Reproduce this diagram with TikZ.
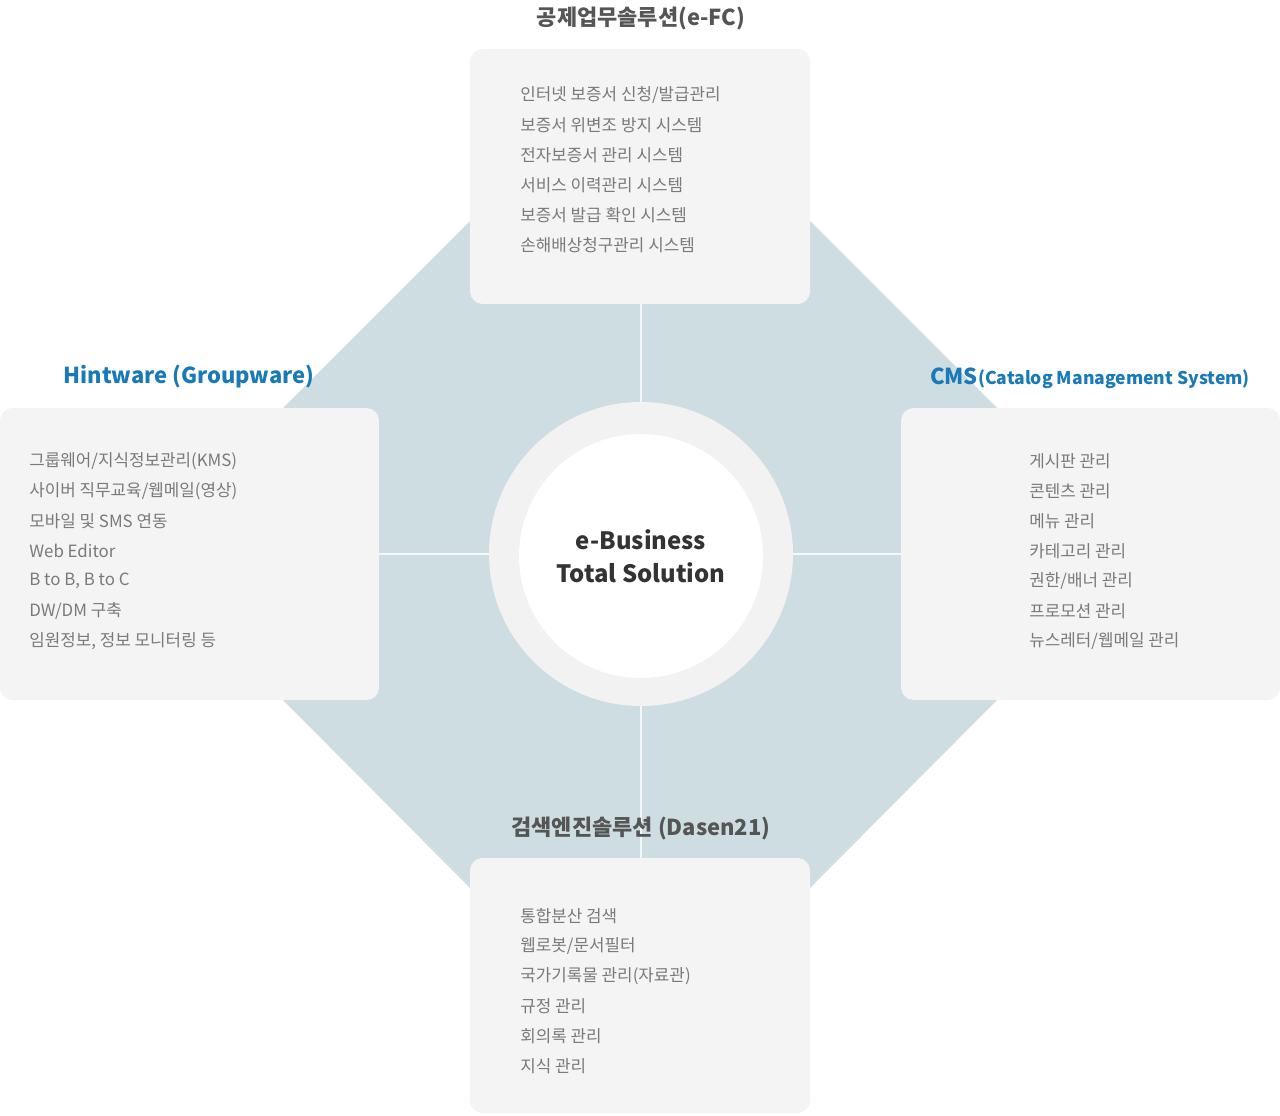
\documentclass[tikz,border=0pt]{standalone}
\usepackage{fontspec}
\setmainfont{Noto Sans CJK KR}
\definecolor{octa}{HTML}{CDDDE2}
\definecolor{boxgray}{HTML}{F4F4F4}
\definecolor{ringgray}{HTML}{F2F2F2}
\definecolor{listgray}{HTML}{7A7A7A}
\definecolor{titlegray}{HTML}{555555}
\definecolor{hintblue}{HTML}{1A7AB8}
\begin{document}
\begin{tikzpicture}[x=0.02cm, y=-0.02cm,
    panel/.style={fill=boxgray, rounded corners=0.25cm},
    item/.style={anchor=west, text=listgray, font=\fontsize{9.6pt}{11pt}\selectfont, inner sep=0pt},
    title/.style={font=\fontsize{12.5pt}{14pt}\selectfont\bfseries, inner sep=0pt}]
\useasboundingbox (0,0) rectangle (1280,1115);
% octagon behind
\fill[octa] (283,408) -- (470,221) -- (810,221) -- (997,408) -- (997,700)
  -- (810,888) -- (470,888) -- (283,700) -- cycle;
\draw[white!80!octa, line width=0.6pt] (641,304) -- (641,858);
\draw[white!80!octa, line width=0.6pt] (379,554) -- (901,554);
% panels
\fill[panel] (470,49) rectangle (810,304);
\fill[panel] (0,408) rectangle (379,700);
\fill[panel] (901,408) rectangle (1280,700);
\fill[panel] (470,858) rectangle (810,1113);
% center
\fill[ringgray] (641,554) circle (152);
\node[circle, fill=white, minimum size=4.88cm, align=center, text=black!80,
  font=\fontsize{13.6pt}{19pt}\selectfont\bfseries] (core) at (641,556)
  {e-Business\\Total Solution};
% titles
\node[title, text=titlegray] (efc) at (641,18) {공제업무솔루션(e-FC)};
\node[title, text=hintblue] (hint) at (189,377) {Hintware (Groupware)};
\node[title, text=hintblue] (cms) at (1090,378) {CMS{\fontsize{10pt}{12pt}\selectfont(Catalog Management System)}};
\node[title, text=titlegray] (dasen) at (641,828) {검색엔진솔루션 (Dasen21)};
% lists
\foreach \t [count=\i] in {인터넷 보증서 신청/발급관리, 보증서 위변조 방지 시스템,
  전자보증서 관리 시스템, 서비스 이력관리 시스템, 보증서 발급 확인 시스템,
  손해배상청구관리 시스템}
  \node[item] (efc\i) at (520,65+30*\i) {\t};
\foreach \t [count=\i] in {그룹웨어/지식정보관리(KMS), 사이버 직무교육/웹메일(영상),
  모바일 및 SMS 연동, Web Editor, {B to B, B to C}, DW/DM 구축,
  {임원정보, 정보 모니터링 등}}
  \node[item] (hint\i) at (29,431+30*\i) {\t};
\foreach \t [count=\i] in {게시판 관리, 콘텐츠 관리, 메뉴 관리, 카테고리 관리,
  권한/배너 관리, 프로모션 관리, 뉴스레터/웹메일 관리}
  \node[item] (cms\i) at (1029,431+30*\i) {\t};
\foreach \t [count=\i] in {통합분산 검색, 웹로봇/문서필터, 국가기록물 관리(자료관),
  규정 관리, 회의록 관리, 지식 관리}
  \node[item] (dasen\i) at (520,886+30*\i) {\t};
\end{tikzpicture}
\end{document}
